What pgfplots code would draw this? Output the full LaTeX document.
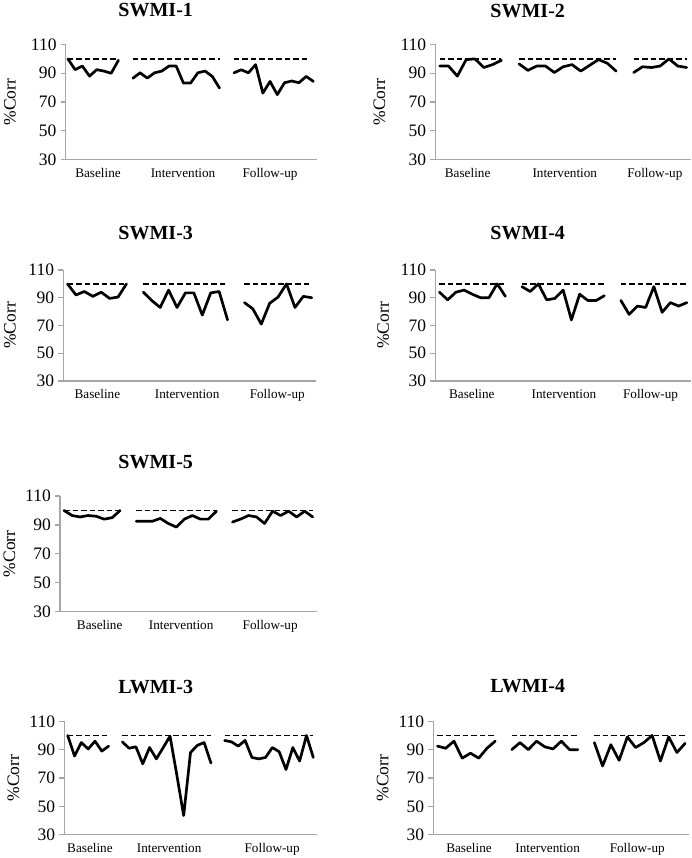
\documentclass[border=0pt]{standalone}
\usepackage{fontspec}
\setmainfont{Liberation Serif}
\usepackage{pgfplots}
\pgfplotsset{compat=1.18}
\pgfplotsset{
  panel/.style={
    scale only axis, anchor=south west,
    axis lines=left,
    axis line style={draw=gray!70, line width=1.2pt, -},
    ymin=30, ymax=110, ytick={30,50,70,90,110},
    tick align=outside, major tick length=5pt,
    ytick style={draw=gray!70, line width=1.2pt},
    xtick style={draw=none},
    /pgf/number format/assume math mode=true,
    yticklabel style={font=\fontsize{17.5}{20}\selectfont, inner sep=1pt, xshift=-3pt},
    xticklabel style={font=\fontsize{13.2}{15}\selectfont, text height=9pt, text depth=3pt},
    xticklabels={Baseline,Intervention,Follow-up},
    ylabel={\%Corr},
    ylabel style={font=\fontsize{17.5}{20}\selectfont, at={(axis description cs:#1,0.5)}, anchor=center},
    clip=false,
  },
  dat/.style={black, line width=2.7pt, line join=round, line cap=round, no marks},
  ref/.style={black, line width=1.7pt, dash pattern=on 5.5pt off 3pt, no marks},
}
\newcommand{\ttl}[3]{\node[font=\fontsize{20}{23}\selectfont\bfseries, anchor=base] at (#1pt,#2pt) {#3};}
\begin{document}
\begin{tikzpicture}[x=1pt,y=1pt]
\path[use as bounding box] (0,0) rectangle (692,858);

% ---------- SWMI-1 ----------
\ttl{155.7}{841}{SWMI-1}
\begin{axis}[panel=-0.222, at={(65.7pt,698.5pt)}, width=251.3pt, height=115pt,
  xmin=-0.3, xmax=34.5, xtick={4.17,15.95,28.0}]
\addplot[ref] coordinates {(0,100) (7,100)};
\addplot[ref] coordinates {(9,100) (21,100)};
\addplot[ref] coordinates {(23,100) (33.5,100)};
\addplot[dat] coordinates {(0,100) (1,92.5) (2,95) (3,88) (4,92.5) (5,91.5) (6,90) (7,99)};
\addplot[dat] coordinates {(9,86.5) (10,90.3) (11,86.6) (12,90.3) (13,91.5) (14,95) (15,95) (16,83.2) (17,83.2) (18,90.3) (19,91.5) (20,87.8) (21,79.7)};
\addplot[dat] coordinates {(23,90.3) (24,92.4) (25,90.3) (26,96) (27,76.2) (28,84.3) (29,75.1) (30,83.4) (31,84.6) (32,83.4) (33,87.8) (34,84.3)};
\end{axis}

% ---------- SWMI-2 ----------
\ttl{527.7}{840}{SWMI-2}
\begin{axis}[panel=-0.219, at={(435.3pt,698.5pt)}, width=255.7pt, height=115pt,
  xmin=-0.5, xmax=28.5, xtick={3.17,14.19,24.4}]
\addplot[ref] coordinates {(0,100) (7,100)};
\addplot[ref] coordinates {(9,100) (20,100)};
\addplot[ref] coordinates {(22,100) (28,100)};
\addplot[dat] coordinates {(0,95) (1,95) (2,88) (3,99.5) (4,100) (5,94) (6,96) (7,99)};
\addplot[dat] coordinates {(9,96.5) (10,92) (11,95) (12,95) (13,90.5) (14,94.5) (15,96) (16,91.5) (17,95.5) (18,99.5) (19,97) (20,91.5)};
\addplot[dat] coordinates {(22,90.5) (23,94.5) (24,94) (25,95) (26,100) (27,95) (28,94)};
\end{axis}

% ---------- SWMI-3 ----------
\ttl{155.7}{618}{SWMI-3}
\begin{axis}[panel=-0.211, at={(63.3pt,477pt)}, width=252.7pt, height=111pt,
  xmin=-0.5, xmax=29.5, xtick={3.55,14.2,24.9}]
\addplot[ref] coordinates {(0,100) (7,100)};
\addplot[ref] coordinates {(9,100) (19,100)};
\addplot[ref] coordinates {(21,100) (29,100)};
\addplot[dat] coordinates {(0,100) (1,92) (2,94.5) (3,91) (4,94) (5,89.5) (6,90.5) (7,100)};
\addplot[dat] coordinates {(9,94) (10,88) (11,83) (12,95.5) (13,83) (14,93.5) (15,93.5) (16,77.5) (17,93.5) (18,94.5) (19,74)};
\addplot[dat] coordinates {(21,86.5) (22,82) (23,71) (24,86) (25,90.5) (26,100) (27,83) (28,91) (29,90)};
\end{axis}

% ---------- SWMI-4 ----------
\ttl{527.7}{618}{SWMI-4}
\begin{axis}[panel=-0.204, at={(435.3pt,477pt)}, width=255.7pt, height=111pt,
  xmin=-0.5, xmax=30.5, xtick={3.93,15.1,25.6}]
\addplot[ref] coordinates {(0,100) (8,100)};
\addplot[ref] coordinates {(10,100) (20,100)};
\addplot[ref] coordinates {(22,100) (30,100)};
\addplot[dat] coordinates {(0,94) (1,88.5) (2,94) (3,95.5) (4,92.5) (5,90) (6,90) (7,100) (8,91)};
\addplot[dat] coordinates {(10,98) (11,94.5) (12,100) (13,88.5) (14,89.5) (15,95.5) (16,74) (17,92.5) (18,88) (19,88) (20,91.5)};
\addplot[dat] coordinates {(22,88) (23,78) (24,84) (25,83) (26,98) (27,79.5) (28,86.5) (29,84) (30,86.5)};
\end{axis}

% ---------- SWMI-5 ----------
\ttl{155.7}{389.7}{SWMI-5}
\begin{axis}[panel=-0.197, at={(60pt,246.3pt)}, width=256.7pt, height=115.7pt,
  xmin=-0.5, xmax=31.5, xtick={4.45,14.6,25.7}]
\addplot[ref] coordinates {(0,100) (7,100)};
\addplot[ref] coordinates {(9,100) (19,100)};
\addplot[ref] coordinates {(21,100) (31,100)};
\addplot[dat] coordinates {(0,100) (1,96.5) (2,95.5) (3,96.5) (4,96) (5,94) (6,95) (7,100)};
\addplot[dat] coordinates {(9,92.5) (10,92.5) (11,92.5) (12,94.5) (13,91) (14,88.5) (15,94) (16,96.5) (17,94) (18,94) (19,99.5)};
\addplot[dat] coordinates {(21,92) (22,94) (23,96.5) (24,95.5) (25,91) (26,99.5) (27,96.5) (28,99.5) (29,95.5) (30,99.5) (31,95.5)};
\end{axis}

% ---------- LWMI-3 ----------
\ttl{155.7}{164}{LWMI-3}
\begin{axis}[panel=-0.202, at={(64.3pt,23.3pt)}, width=252.4pt, height=113.4pt,
  xmin=-0.5, xmax=36.5, xtick={3.26,14.87,29.97}]
\addplot[ref] coordinates {(0,100) (6,100)};
\addplot[ref] coordinates {(8,100) (21,100)};
\addplot[ref] coordinates {(23,100) (36,100)};
\addplot[dat] coordinates {(0,100) (1,85.5) (2,95) (3,90.5) (4,96) (5,89) (6,92.5)};
\addplot[dat] coordinates {(8,95.5) (9,91) (10,92) (11,80) (12,91.5) (13,83.5) (14,91.5) (15,99.5) (16,72) (17,43.5) (18,88) (19,93) (20,95) (21,80.5)};
\addplot[dat] coordinates {(23,96.5) (24,95.5) (25,92.5) (26,96.5) (27,84.5) (28,83.5) (29,84.5) (30,91.5) (31,88.5) (32,76) (33,91.5) (34,82) (35,100) (36,84.5)};
\end{axis}

% ---------- LWMI-4 ----------
\ttl{527.7}{165}{LWMI-4}
\begin{axis}[panel=-0.198, at={(433.3pt,23.3pt)}, width=256pt, height=113.4pt,
  xmin=-0.5, xmax=30.5, xtick={3.82,13.35,24.2}]
\addplot[ref] coordinates {(0,100) (7,100)};
\addplot[ref] coordinates {(9,100) (17,100)};
\addplot[ref] coordinates {(19,100) (30,100)};
\addplot[dat] coordinates {(0,92.5) (1,91) (2,96) (3,84) (4,87.5) (5,84) (6,91) (7,96)};
\addplot[dat] coordinates {(9,90) (10,95) (11,90) (12,96) (13,92) (14,90.5) (15,96) (16,90) (17,90)};
\addplot[dat] coordinates {(19,95) (20,78.5) (21,93.5) (22,82.5) (23,99) (24,91.5) (25,95) (26,100) (27,82) (28,99) (29,88) (30,94.5)};
\end{axis}
\end{tikzpicture}
\end{document}
